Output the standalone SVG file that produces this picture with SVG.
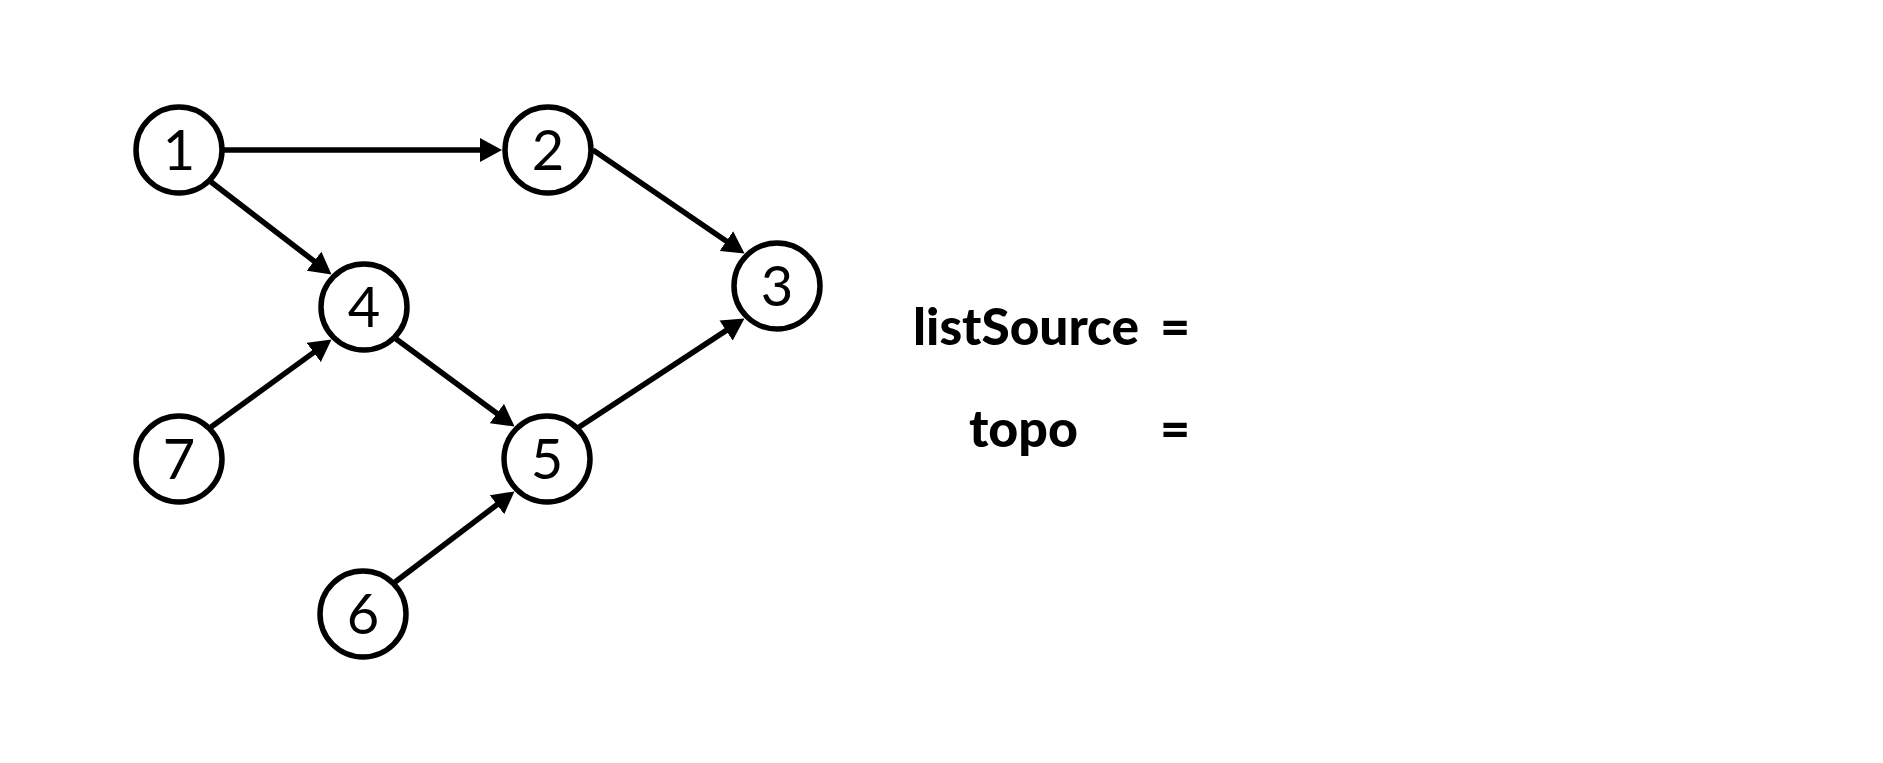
<svg xmlns="http://www.w3.org/2000/svg" width="1883" height="763" viewBox="0 0 1883 763">
<defs>
<style>
.node circle{fill:#fff;stroke:#000;stroke-width:5.5}
.node text{font-family:Lato,"Open Sans","Liberation Sans",sans-serif;font-size:56px;text-anchor:middle;fill:#000}
.edge{stroke:#000;stroke-width:5.5;fill:none;marker-end:url(#arr)}
.lbl{font-family:Lato,"Open Sans","Liberation Sans",sans-serif;font-weight:900;font-size:52px;fill:#000}
</style>
<marker id="arr" markerUnits="userSpaceOnUse" markerWidth="22" markerHeight="24" refX="9" refY="12" orient="auto" viewBox="0 0 22 24">
<path d="M0,0 L22,12 L0,24 z" fill="#000"/>
</marker>
</defs>
<rect width="1883" height="763" fill="#fff"/>
<g id="connectors">
<line class="edge" x1="224" y1="150" x2="489" y2="150"/>
<line class="edge" x1="593" y1="150" x2="733.8" y2="246.2"/>
<line class="edge" x1="210.8" y1="181.8" x2="321.2" y2="266.6"/>
<line class="edge" x1="210.8" y1="427.2" x2="321" y2="347.1"/>
<line class="edge" x1="395.8" y1="338.8" x2="504.1" y2="418.8"/>
<line class="edge" x1="394.8" y1="582.2" x2="504.1" y2="499.3"/>
<line class="edge" x1="578.8" y1="427.2" x2="733.6" y2="325.6"/>
</g>
<g id="node1" class="node"><circle cx="179" cy="150" r="43"/><text x="179" y="170">1</text></g>
<g id="node2" class="node"><circle cx="548" cy="150" r="43"/><text x="548" y="170">2</text></g>
<g id="node3" class="node"><circle cx="777" cy="286" r="43"/><text x="777" y="306">3</text></g>
<g id="node4" class="node"><circle cx="364" cy="307" r="43"/><text x="364" y="327">4</text></g>
<g id="node5" class="node"><circle cx="547" cy="459" r="43"/><text x="547" y="479">5</text></g>
<g id="node6" class="node"><circle cx="363" cy="614" r="43"/><text x="363" y="634">6</text></g>
<g id="node7" class="node"><circle cx="179" cy="459" r="43"/><text x="179" y="479">7</text></g>
<g id="labels">
<text class="lbl" x="913" y="345" textLength="226" lengthAdjust="spacingAndGlyphs">listSource</text>
<text class="lbl" x="1160" y="345">=</text>
<text class="lbl" x="969" y="447" textLength="109" lengthAdjust="spacingAndGlyphs">topo</text>
<text class="lbl" x="1160" y="447">=</text>
</g>
</svg>
